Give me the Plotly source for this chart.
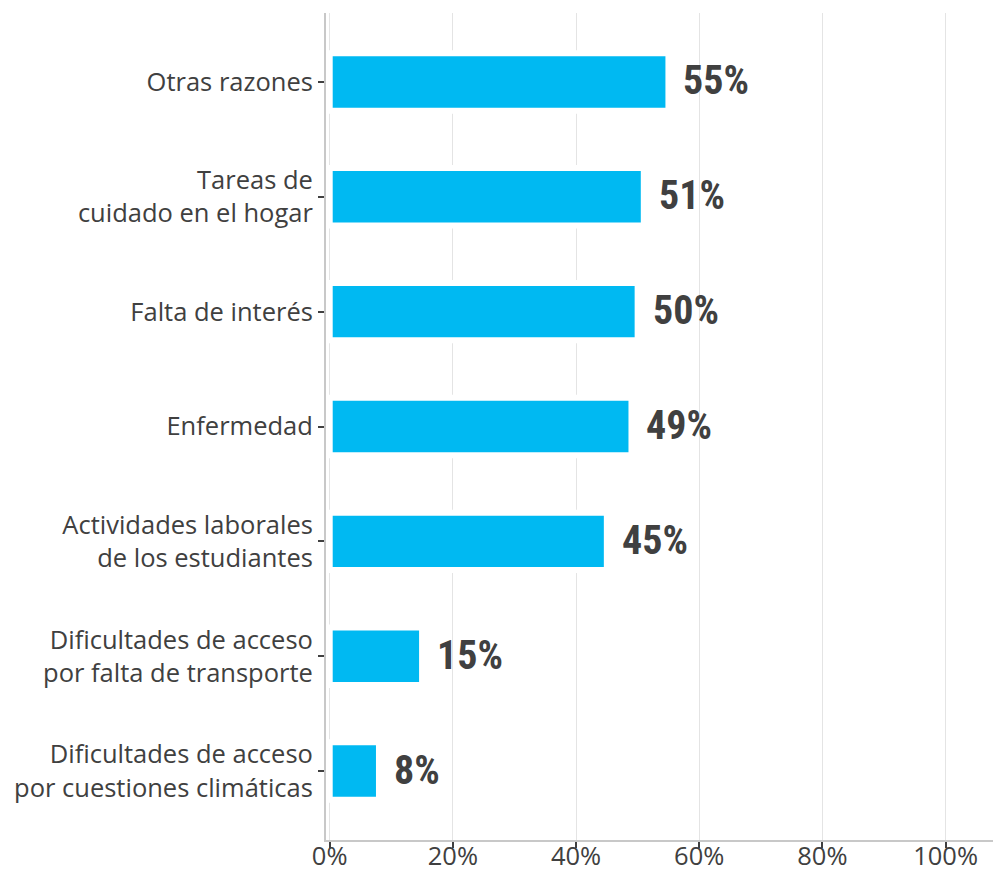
import plotly.graph_objects as go

categories = [
    "Otras razones",
    "Tareas de<br>cuidado en el hogar",
    "Falta de interés",
    "Enfermedad",
    "Actividades laborales<br>de los estudiantes",
    "Dificultades de acceso<br>por falta de transporte",
    "Dificultades de acceso<br>por cuestiones climáticas",
]
values = [55, 51, 50, 49, 45, 15, 8]
tick_vals = [0, 20, 40, 60, 80, 100]
tick_text = ["0%", "20%", "40%", "60%", "80%", "100%"]

bar_color = "#00B9F2"
text_color = "#404040"
label_font = dict(family="Roboto Condensed, Roboto, sans-serif", size=40,
                  color=text_color, weight="bold")

fig = go.Figure(
    go.Bar(
        x=values,
        y=categories,
        orientation="h",
        marker=dict(color=bar_color, line=dict(color="white", width=6)),
        hoverinfo="skip",
    )
)

# value labels placed just past the end of each bar
for cat, val in zip(categories, values):
    fig.add_annotation(
        x=val, y=cat, xref="x", yref="y",
        text=f"{val}%", showarrow=False,
        xanchor="left", yanchor="middle", xshift=13, yshift=1,
        font=label_font,
    )

fig.update_layout(
    width=995,
    height=872,
    margin=dict(l=326, r=2, t=13, b=32),
    paper_bgcolor="white",
    plot_bgcolor="white",
    bargap=0.5,
    showlegend=False,
    font=dict(family="Open Sans, sans-serif", size=25.5, color=text_color),
    xaxis=dict(
        range=[-0.6, 107.7],
        tickvals=tick_vals,
        ticktext=tick_text,
        automargin=False,
        showgrid=True,
        gridcolor="#e4e4e4",
        gridwidth=1,
        zeroline=False,
        showline=True,
        linecolor="#c8c8c8",
        linewidth=2,
        ticks="outside",
        ticklen=6,
        tickwidth=2,
        tickcolor=text_color,
        ticklabelstandoff=-14,
        tickfont=dict(size=25.5, color=text_color),
    ),
    yaxis=dict(
        type="category",
        categoryorder="array",
        categoryarray=categories,
        range=[6.6, -0.6],
        automargin=False,
        showgrid=False,
        zeroline=False,
        showline=True,
        linecolor="#c8c8c8",
        linewidth=2,
        ticks="outside",
        ticklen=6,
        tickwidth=2,
        tickcolor=text_color,
        tickfont=dict(size=25.5, color=text_color),
    ),
)

fig.write_html("out.html")
